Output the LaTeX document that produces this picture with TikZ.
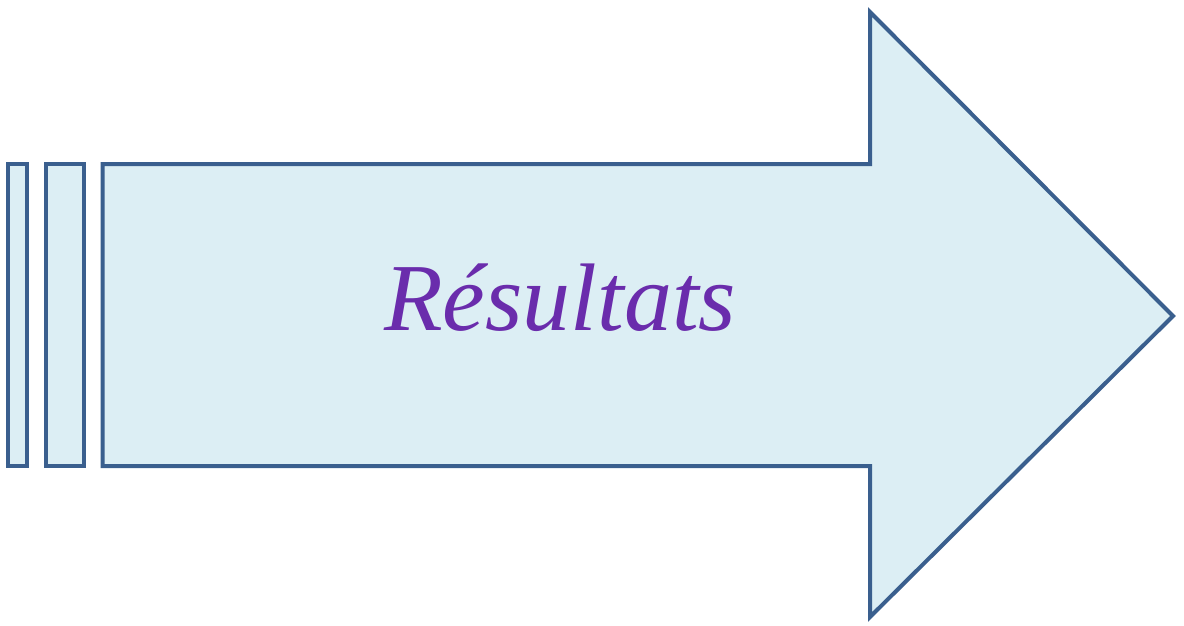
\documentclass[tikz,border=0pt]{standalone}
\usepackage{fontspec}
\setmainfont{Liberation Serif}
\definecolor{edge}{HTML}{3A5F8E}
\definecolor{fillc}{HTML}{DCEEF4}
\definecolor{txt}{HTML}{6A2CAC}
\begin{document}
\begin{tikzpicture}[x=1pt,y=-1pt,
  shapestyle/.style={draw=edge,fill=fillc,line width=4pt,line join=miter},
  labelstyle/.style={text=txt,font=\fontsize{96}{110}\selectfont\itshape,inner sep=0pt}]
\useasboundingbox (0,0) rectangle (1184,625);
\draw[shapestyle] (7.5,164) rectangle (26.5,466);
\draw[shapestyle] (45.5,164) rectangle (84,466);
\draw[shapestyle] (102.5,164) -- (870,164) -- (870,12) -- (1173,316) -- (870,617) -- (870,466) -- (102.5,466) -- cycle;
\node[labelstyle,anchor=base] (lbl) at (560,330) {Résultats};
\end{tikzpicture}
\end{document}
